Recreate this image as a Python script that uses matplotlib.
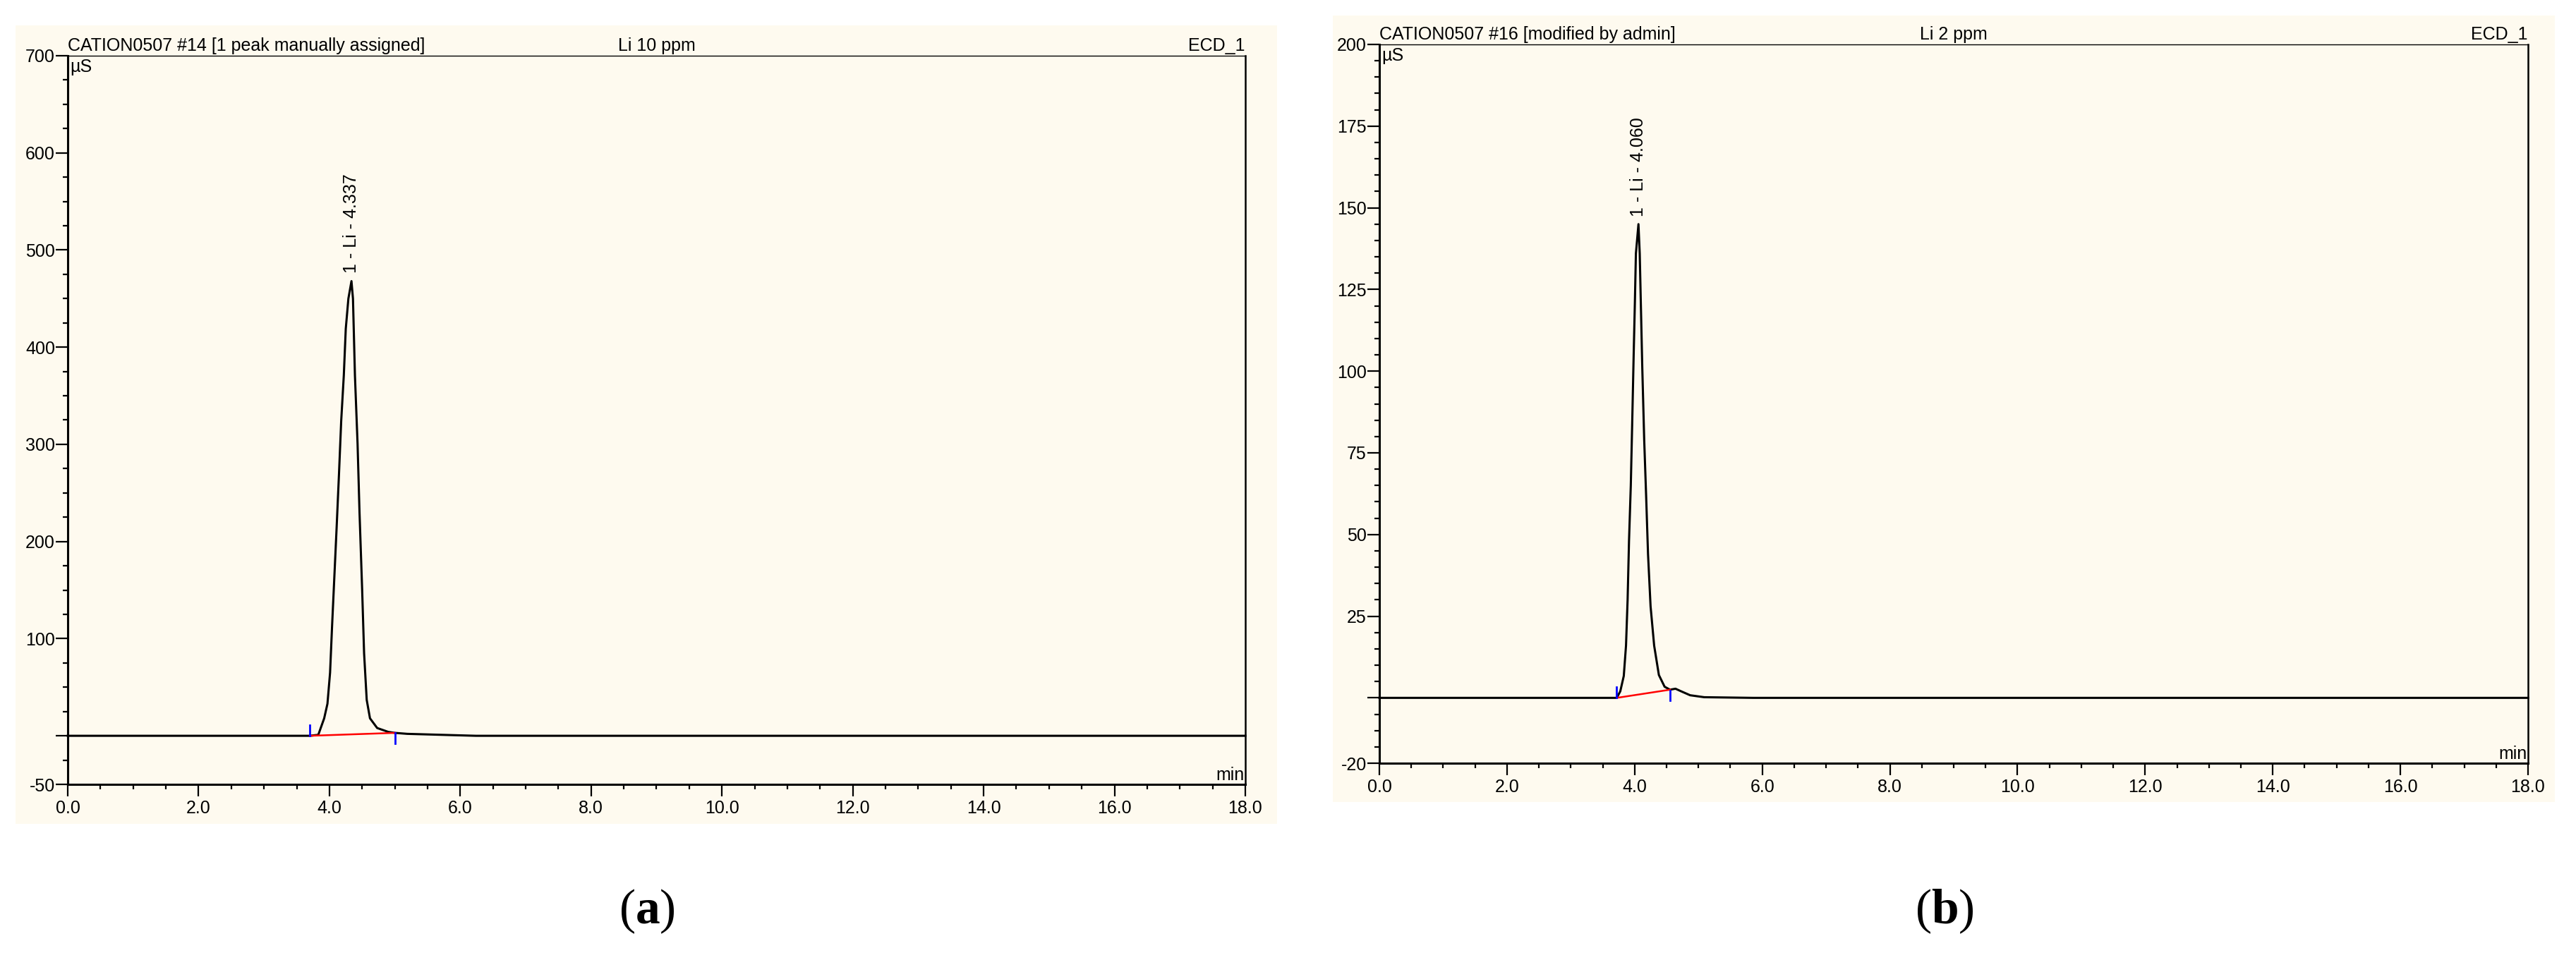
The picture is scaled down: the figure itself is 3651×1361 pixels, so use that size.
import matplotlib
matplotlib.use("Agg")
import matplotlib.pyplot as plt
from matplotlib.patches import Rectangle
from matplotlib.ticker import FixedLocator, MultipleLocator

plt.rcParams["font.family"] = ["Liberation Sans", "DejaVu Sans"]
plt.rcParams["mathtext.fontset"] = "custom"
plt.rcParams["mathtext.bf"] = "Liberation Serif:bold"
plt.rcParams["mathtext.rm"] = "Liberation Serif"

W, H, DPI = 3651, 1361, 100
BG = "#FEFAEF"
FS = 18

# x axis shared by both chromatograms (min)
x_ticks = [0.0, 2.0, 4.0, 6.0, 8.0, 10.0, 12.0, 14.0, 16.0, 18.0]
x_labels = ["0.0", "2.0", "4.0", "6.0", "8.0", "10.0", "12.0", "14.0", "16.0", "18.0"]

# (a) Li 10 ppm
a_time = [0.0, 3.0, 3.70, 3.83, 3.92, 3.97, 4.01, 4.04, 4.075, 4.11, 4.146, 4.18,
          4.22, 4.25, 4.29, 4.337, 4.36, 4.39, 4.43, 4.46, 4.50, 4.53, 4.57, 4.62,
          4.73, 4.90, 5.00, 5.19, 5.71, 6.24, 18.0]
a_signal = [0, 0, 0, 1, 18, 33, 65, 112, 163, 214, 269, 324,
            371, 419, 450, 468, 450, 371, 301, 230, 151, 85, 37, 18,
            8, 4, 3, 2, 1, 0, 0]
a_base_t = [3.70, 5.00]
a_base_y = [0, 3]
a_delim = [(3.70, 0, 11), (5.00, 3, -8)]
a_y_ticks = [-50, 0, 100, 200, 300, 400, 500, 600, 700]
a_y_labels = ["-50", "", "100", "200", "300", "400", "500", "600", "700"]
a_peak = (4.337, 468, "1 - Li - 4.337")
a_header = ["CATION0507 #14 [1 peak manually assigned]", "Li 10 ppm", "ECD_1"]

# (b) Li 2 ppm
b_time = [0.0, 3.72, 3.775, 3.83, 3.865, 3.89, 3.912, 3.94, 3.963, 3.985, 4.004,
          4.02, 4.06, 4.08, 4.097, 4.12, 4.15, 4.18, 4.21, 4.25, 4.306, 4.38,
          4.47, 4.555, 4.64, 4.73, 4.87, 5.09, 5.86, 18.0]
b_signal = [0, 0, 2, 6.7, 16, 30, 48, 65, 85, 105, 121,
            136, 145, 136, 121, 101, 79, 62, 44, 28, 16, 7,
            3.4, 2.5, 2.8, 2.0, 0.8, 0.2, 0, 0]
b_base_t = [3.72, 4.555]
b_base_y = [0, 2.5]
b_delim = [(3.72, 0, 3.3), (4.555, 2.3, -0.8)]
b_y_ticks = [-20, 0, 25, 50, 75, 100, 125, 150, 175, 200]
b_y_labels = ["-20", "", "25", "50", "75", "100", "125", "150", "175", "200"]
b_peak = (4.060, 145, "1 - Li - 4.060")
b_header = ["CATION0507 #16 [modified by admin]", "Li 2 ppm", "ECD_1"]

fig = plt.figure(figsize=(W / DPI, H / DPI), dpi=DPI, facecolor="white")


def px_rect(x0, y0, x1, y1):
    """pixel box (top-left origin) -> figure fraction [l, b, w, h]"""
    return [x0 / W, (H - y1) / H, (x1 - x0) / W, (y1 - y0) / H]


def panel(box, bg_box, t, s, base_t, base_y, delim, yticks, ylabels, ymin_step,
          peak, header, letter, letter_x):
    l, b, w, h = px_rect(*bg_box)
    fig.patches.append(Rectangle((l, b), w, h, transform=fig.transFigure,
                                 facecolor=BG, edgecolor="none", zorder=-10))
    ax = fig.add_axes(px_rect(*box))
    ax.set_facecolor(BG)

    ax.plot(t, s, color="black", lw=2.2, zorder=3, clip_on=False)
    ax.plot(base_t, base_y, color="red", lw=1.8, zorder=4)
    for xt, y0, y1 in delim:
        ax.plot([xt, xt], [y0, y1], color="blue", lw=2.0, zorder=5)

    ax.set_xlim(0, 18)
    ax.set_ylim(yticks[0], yticks[-1])
    ax.xaxis.set_major_locator(FixedLocator(x_ticks))
    ax.set_xticklabels(x_labels)
    ax.xaxis.set_minor_locator(MultipleLocator(0.5))
    ax.yaxis.set_major_locator(FixedLocator(yticks))
    ax.set_yticklabels(ylabels)
    ax.yaxis.set_minor_locator(MultipleLocator(ymin_step))

    ax.tick_params(axis="x", which="major", direction="out", length=12, width=1.6,
                   labelsize=FS, pad=4)
    ax.tick_params(axis="x", which="minor", direction="out", length=5, width=1.6)
    ax.tick_params(axis="y", which="major", direction="out", length=12, width=1.6,
                   labelsize=FS, pad=1)
    ax.tick_params(axis="y", which="minor", direction="out", length=5, width=1.6)

    for side, lw in (("left", 2.2), ("bottom", 2.2), ("right", 1.8), ("top", 1.0)):
        ax.spines[side].set_linewidth(lw)

    # header line above the frame
    kw = dict(xycoords="axes fraction", textcoords="offset points", fontsize=FS,
              va="baseline")
    ax.annotate(header[0], (0, 1), xytext=(0, 5), ha="left", **kw)
    ax.annotate(header[1], (0.5, 1), xytext=(0, 5), ha="center", **kw)
    ax.annotate(header[2], (1, 1), xytext=(0, 5), ha="right", **kw)

    ax.annotate("µS", (0, 1), xytext=(2, -3), xycoords="axes fraction",
                textcoords="offset points", fontsize=FS, ha="left", va="top")
    ax.annotate("min", (1, 0), xytext=(-1, 4), xycoords="axes fraction",
                textcoords="offset points", fontsize=FS, ha="right", va="baseline")

    px, py, ptxt = peak
    ax.annotate(ptxt, (px, py), xytext=(0, 8), textcoords="offset points",
                rotation=90, fontsize=FS, ha="center", va="bottom")

    fig.text(letter_x / W, 1 - 1292 / H, r"($\mathbf{" + letter + r"}$)",
             fontsize=50, ha="center", va="center", family="Liberation Serif")
    return ax


panel((96, 79, 1765, 1112), (22, 36, 1810, 1168), a_time, a_signal, a_base_t,
      a_base_y, a_delim, a_y_ticks, a_y_labels, 25, a_peak, a_header, "a", 917)
panel((1955, 63, 3583, 1082), (1889, 22, 3621, 1137), b_time, b_signal, b_base_t,
      b_base_y, b_delim, b_y_ticks, b_y_labels, 5, b_peak, b_header, "b", 2756)

fig.savefig("out.png", dpi=DPI, facecolor="white")
